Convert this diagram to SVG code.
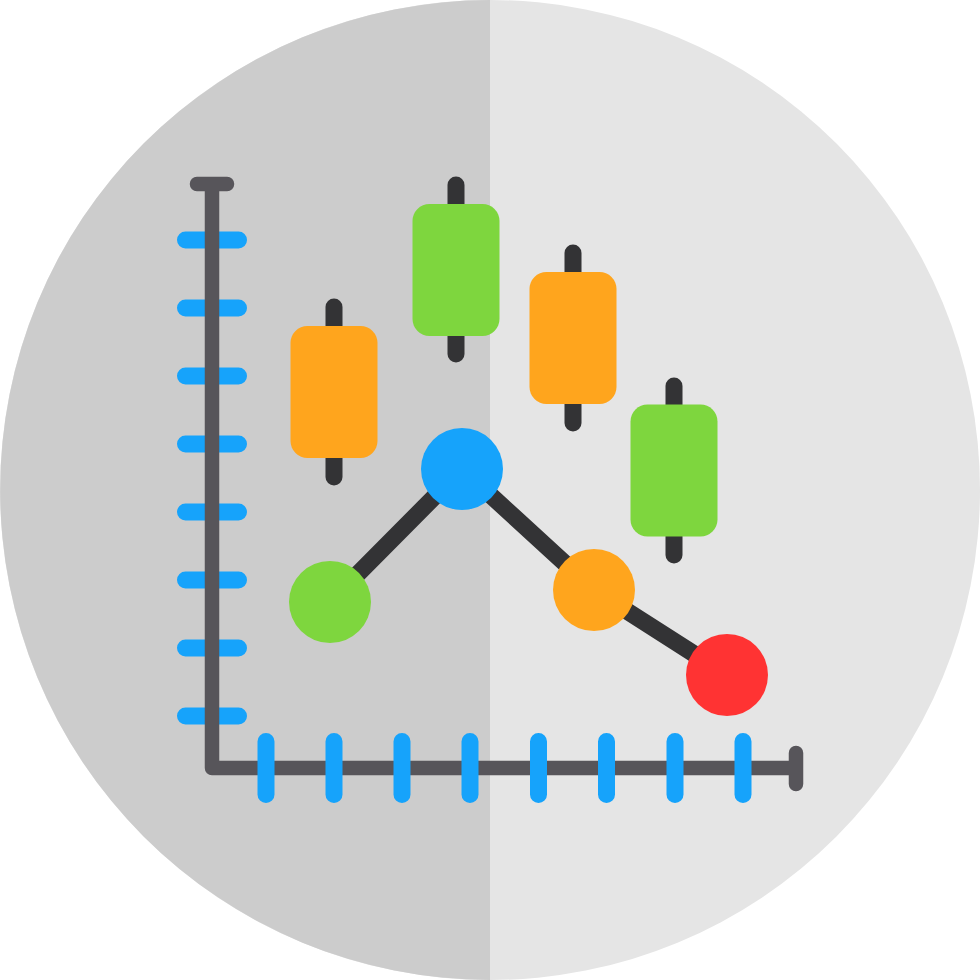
<svg xmlns="http://www.w3.org/2000/svg" width="980" height="980" viewBox="0 0 980 980">
<style>
.axis{stroke:#57555a;stroke-width:14.500;stroke-linecap:round;stroke-linejoin:round;fill:none}
.tick{stroke:#16a3fb;stroke-width:17;stroke-linecap:round;fill:none}
.wick{stroke:#333335;stroke-width:17;stroke-linecap:round;fill:none}
.link{stroke:#333335;stroke-width:17;fill:none}
.o{fill:#ffa51d}.g{fill:#7ed63e}.b{fill:#16a3fb}.r{fill:#ff3333}
</style>
<circle cx="490" cy="490" r="490" fill="#e5e5e5"/>
<path d="M490 0A490 490 0 0 0 490 980Z" fill="#cccccc"/>
<g id="axes">
<path id="ticks-y" class="tick" d="M185.500 240H238.500M185.500 308H238.500M185.500 376H238.500M185.500 444H238.500M185.500 512H238.500M185.500 580H238.500M185.500 648H238.500M185.500 716H238.500"/>
<path id="axis" class="axis" d="M197 184H227M212 184V768H796M796 753V784"/>
<path id="ticks-x" class="tick" d="M266 741.500V794.500M334 741.500V794.500M402 741.500V794.500M470 741.500V794.500M538.500 741.500V794.500M606.500 741.500V794.500M675 741.500V794.500M743 741.500V794.500"/>
</g>
<g id="connectors">
<path class="link" d="M330 602L462 469L594 590L727 675"/>
</g>
<g id="candle1"><path class="wick" d="M334 307V477"/><rect class="o" x="290.500" y="326" width="87" height="132" rx="17"/></g>
<g id="candle2"><path class="wick" d="M456 185V354"/><rect class="g" x="412.500" y="204" width="87" height="132" rx="17"/></g>
<g id="candle3"><path class="wick" d="M573 253V423"/><rect class="o" x="529.500" y="272" width="87" height="132" rx="17"/></g>
<g id="candle4"><path class="wick" d="M674 386V555"/><rect class="g" x="630.500" y="404.500" width="87" height="132" rx="17"/></g>
<g id="node1"><circle class="g" cx="330" cy="602" r="41"/></g>
<g id="node2"><circle class="b" cx="462" cy="469" r="41"/></g>
<g id="node3"><circle class="o" cx="594" cy="590" r="41"/></g>
<g id="node4"><circle class="r" cx="727" cy="675" r="41"/></g>
</svg>
